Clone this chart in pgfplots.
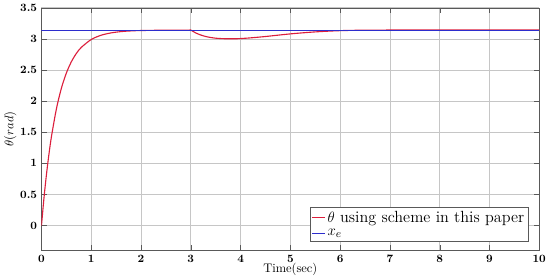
\documentclass[border=0pt]{standalone}
\usepackage{pgfplots}
\pgfplotsset{compat=1.18}
\definecolor{thetared}{RGB}{220,30,60}
\definecolor{xeblue}{RGB}{45,45,205}

\begin{document}
\begin{tikzpicture}
\begin{axis}[
  scale only axis,
  width=400pt, height=195pt,
  xmin=0, xmax=10, ymin=-0.4, ymax=3.5,
  xtick={0,1,...,10},
  ytick={0,0.5,...,3.5},
  grid=major,
  major grid style={gray!45, line width=0.5pt},
  axis line style={gray!70!black},
  tick style={gray!70!black},
  tick align=inside,
  tick label style={font=\boldmath\bfseries\small},
  xlabel={Time(sec)},
  xlabel style={font=\normalsize, yshift=6pt},
  ylabel={$\theta(rad)$},
  ylabel style={font=\normalsize, yshift=-4pt},
  legend style={at={(0.978,0.037)}, anchor=south east,
    font=\fontsize{13}{14}\selectfont,
    draw=gray!70!black, inner sep=1pt},
  legend cell align=left,
  legend image code/.code={\draw[#1] (0cm,0cm) -- (0.35cm,0cm);},
]
\addplot[thetared, line width=0.9pt, smooth] coordinates {
 (0,0) (0.05,0.442) (0.1,0.821) (0.15,1.147) (0.2,1.428) (0.3,1.876)
 (0.4,2.207) (0.5,2.451) (0.6,2.632) (0.7,2.765) (0.8,2.863) (1.0,2.990)
 (1.2,3.059) (1.4,3.096) (1.6,3.117) (1.8,3.128) (2.0,3.134) (2.5,3.140)
 (3.0,3.1416)};
\addplot[thetared, line width=0.9pt, smooth, forget plot] coordinates {
 (3.0,3.1416) (3.1,3.095) (3.2,3.062) (3.3,3.038) (3.4,3.022) (3.5,3.011)
 (3.6,3.005) (3.7,3.002) (3.8,3.001) (3.9,3.002) (4.0,3.005) (4.2,3.016)
 (4.5,3.038) (5.0,3.080) (5.5,3.112) (6.0,3.132) (6.5,3.140) (7.0,3.1416)
 (10,3.1416)};
\addplot[xeblue, line width=0.8pt] coordinates {(0,3.1416) (10,3.1416)};
\legend{$\theta$ using scheme in this paper, $x_e$}
\end{axis}
\end{tikzpicture}
\end{document}
